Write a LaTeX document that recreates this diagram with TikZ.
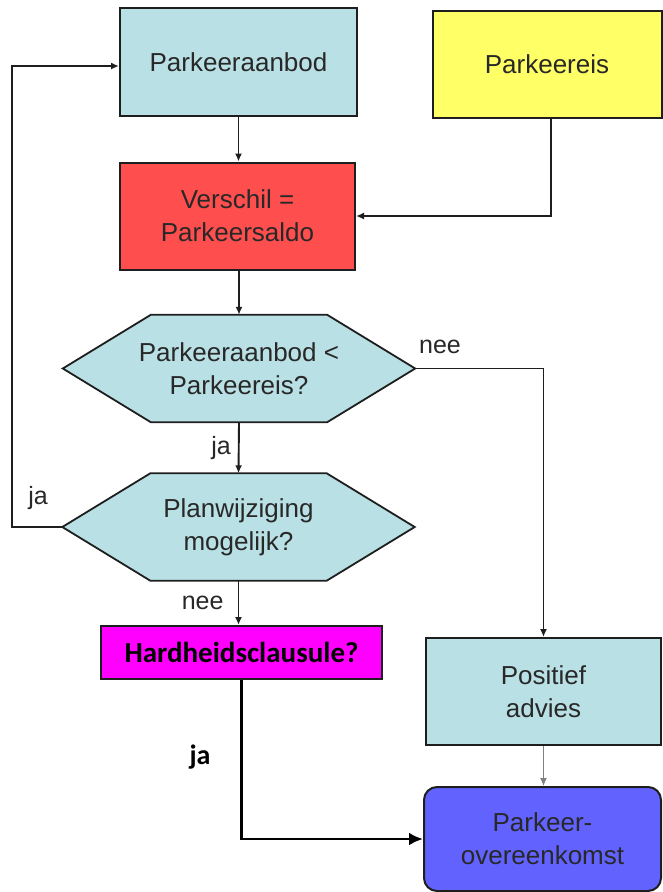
\documentclass[tikz,border=0pt]{standalone}
\usepackage{fontspec}
\setmainfont{Liberation Sans}
\newfontfamily\calib{Carlito}
\usetikzlibrary{arrows.meta,calc,backgrounds}
\definecolor{cyanbox}{RGB}{185,224,228}
\definecolor{yelbox}{RGB}{255,255,102}
\definecolor{redbox}{RGB}{255,78,78}
\definecolor{magbox}{RGB}{255,0,255}
\definecolor{bluebox}{RGB}{98,98,255}
\definecolor{txt}{RGB}{40,40,40}
\definecolor{edge}{RGB}{30,30,30}
\tikzset{
  box/.style={draw=edge, line width=2pt, text=txt, align=center,
    font=\fontsize{26}{33}\selectfont, inner sep=0pt},
  hexnode/.style={text=txt, align=center, font=\fontsize{26}{33}\selectfont,
    inner sep=0pt, minimum width=352pt, minimum height=107pt},
  hexfill/.style={fill=cyanbox, draw=edge, line width=1.8pt},
  conn/.style={draw=edge, line width=1.9pt, -{Latex[length=8pt,width=7pt]}},
  thinconn/.style={draw=gray, line width=1.1pt, -{Latex[length=8pt,width=7pt]}},
  boldconn/.style={draw=black, line width=2.8pt, -{Latex[length=14pt,width=13pt]}},
  lbl/.style={text=txt, font=\fontsize{25}{30}\selectfont, inner sep=0pt},
  blbl/.style={text=black, font=\calib\bfseries\fontsize{28}{32}\selectfont, inner sep=0pt}
}
\begin{document}
\begin{tikzpicture}[x=1pt,y=-1pt]
\useasboundingbox (0,0) rectangle (663,892);
\node[box, fill=cyanbox, minimum width=237pt, minimum height=108pt] (pa) at (238.5,62) {Parkeeraanbod};
\node[box, fill=yelbox, minimum width=229pt, minimum height=107pt] (pe) at (547,64.5) {Parkeereis};
\node[box, fill=redbox, minimum width=235pt, minimum height=107pt] (vs) at (237.5,216) {Verschil =\\Parkeersaldo};
\node[hexnode] (h1) at (239,368.5) {Parkeeraanbod <\\Parkeereis?};
\node[hexnode] (h2) at (238.5,527) {Planwijziging\\mogelijk?};
\node[box, fill=magbox, text=black, font=\calib\bfseries\fontsize{29}{33}\selectfont, minimum width=281pt, minimum height=53pt] (hc) at (241.5,652.5) {Hardheidsclausule?};
\node[box, fill=cyanbox, minimum width=235pt, minimum height=107pt] (pos) at (543.5,691.5) {Positief\\advies};
\node[box, fill=bluebox, rounded corners=13pt, minimum width=237pt, minimum height=104pt] (po) at (542.5,839) {Parkeer-\\overeenkomst};
\begin{scope}[on background layer]
\foreach \h in {h1,h2}{
  \filldraw[hexfill] (\h.west) -- ($(\h.north west)+(88,0)$) -- ($(\h.north east)+(-88,0)$) -- (\h.east)
    -- ($(\h.south east)+(-88,0)$) -- ($(\h.south west)+(88,0)$) -- cycle;
}
\end{scope}
\coordinate (loop) at (12,527);
\draw[conn] (pa.south) -- (vs.north -| pa.south);
\draw[conn] ([xshift=4pt]pe.south) |- (vs.east);
\draw[conn] (vs.south -| h1.north) -- (h1.north);
\draw[conn] (h1.south) -- node[lbl, left=7pt] {ja} (h2.north);
\draw[conn] (h1.east) -| (pos.north);
\node[lbl] (nee1) at (440,347) {nee};
\draw[conn] (h2.west) -- (loop) |- ([yshift=-4pt]pa.west);
\node[lbl] (ja2) at (38,498) {ja};
\draw[conn] (h2.south) -- node[lbl, left=14pt] {nee} (h2.south |- hc.north);
\draw[boldconn] (hc.south) |- (po.west);
\node[blbl] (ja3) at (200,757) {ja};
\draw[thinconn] (pos.south) -- (po.north -| pos.south);
\end{tikzpicture}
\end{document}
